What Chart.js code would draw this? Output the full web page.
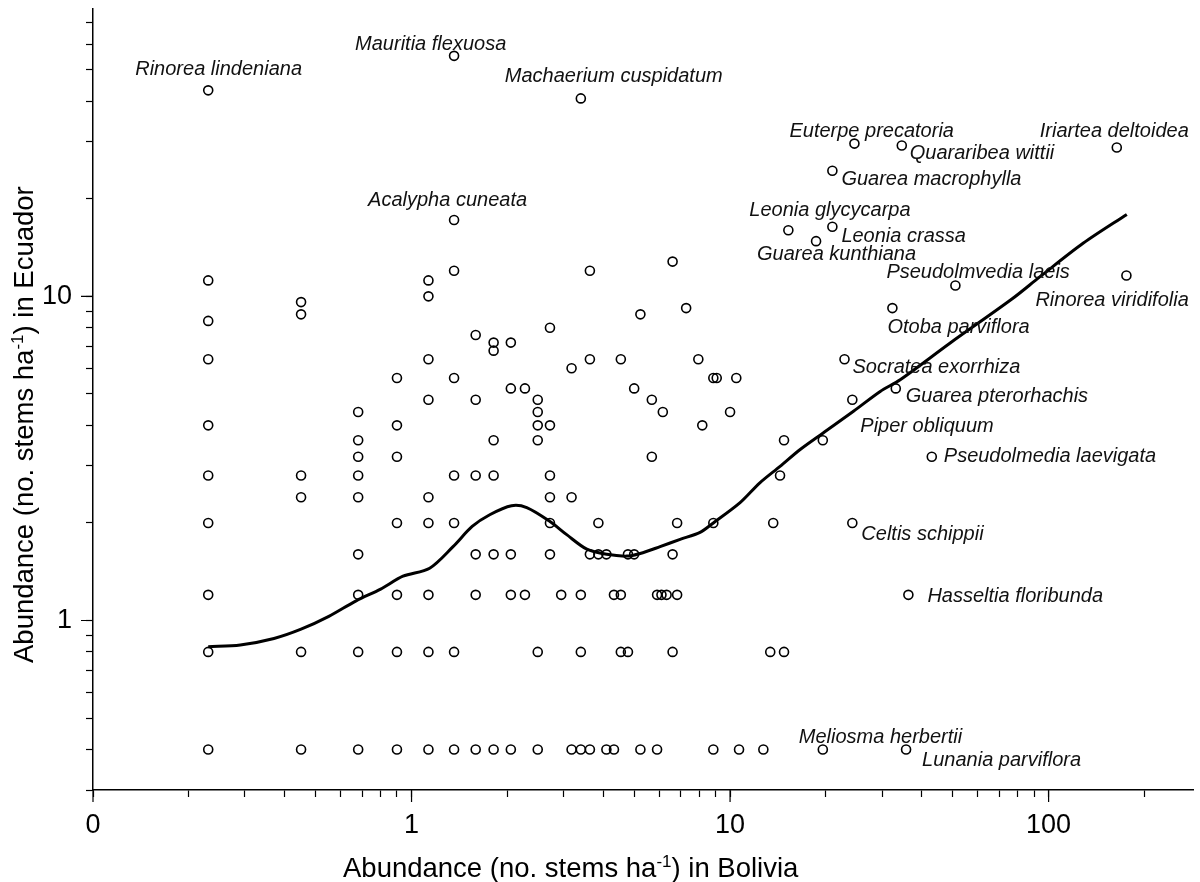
<!DOCTYPE html>
<html>
<head>
<meta charset="utf-8">
<script src="https://cdn.jsdelivr.net/npm/chart.js@4.4.1/dist/chart.umd.min.js"></script>
<style>
  html, body { margin: 0; padding: 0; background: #fff; }
  #wrap { width: 1200px; height: 882px; }
</style>
</head>
<body>
<div id="wrap"><canvas id="chart" width="1200" height="882"></canvas></div>
<script>
// Ecuador abundance (stems/ha), one entry per row of points
const ecuadorRows = [55.2, 43.2, 40.8, 29.6, 29.2, 28.8, 24.4, 17.2, 16.4, 16.0, 14.8, 12.8, 12.0, 11.6,
    11.2, 10.8, 10.0, 9.6, 9.2, 8.8, 8.4, 8.0, 7.6, 7.2, 6.8, 6.4, 6.0, 5.6, 5.2, 4.8, 4.4, 4.0, 3.6,
    3.2, 2.8, 2.4, 2.0, 1.6, 1.2, 0.8, 0.4];

// Bolivia abundance of the species sitting on each of those rows
const boliviaByRow = [
    [1.36],
    [0.23],
    [3.40],
    [24.57],
    [34.60],
    [163.7],
    [20.95],
    [1.36],
    [20.95],
    [15.24],
    [18.62],
    [6.60],
    [1.36, 3.63],
    [175.5],
    [0.23, 1.13],
    [50.98],
    [1.13],
    [0.45],
    [7.28, 32.33],
    [0.45, 5.23],
    [0.23],
    [2.72],
    [1.59],
    [1.81, 2.05],
    [1.81],
    [0.23, 1.13, 3.63, 4.54, 7.95, 22.87],
    [3.18],
    [0.90, 1.36, 8.86, 9.08, 10.46],
    [2.05, 2.27, 5.00, 33.13],
    [1.13, 1.59, 2.49, 5.68, 24.2],
    [0.68, 2.49, 6.15, 10.0],
    [0.23, 0.90, 2.49, 2.72, 8.18],
    [0.68, 1.81, 2.49, 14.77, 19.55],
    [0.68, 0.90, 5.68, 42.98],
    [0.23, 0.45, 0.68, 1.36, 1.59, 1.81, 2.72, 14.35],
    [0.45, 0.68, 1.13, 2.72, 3.18],
    [0.23, 0.90, 1.13, 1.36, 2.72, 3.86, 6.82, 8.86, 13.66, 24.2],
    [0.68, 1.59, 1.81, 2.05, 2.72, 3.63, 3.86, 4.09, 4.78, 5.00, 6.60],
    [0.23, 0.68, 0.90, 1.13, 1.59, 2.05, 2.27, 2.95, 3.40, 4.32, 4.54, 5.90, 6.09, 6.32, 6.82, 36.29],
    [0.23, 0.45, 0.68, 0.90, 1.13, 1.36, 2.49, 3.40, 4.54, 4.78, 6.60, 13.37, 14.77],
    [0.23, 0.45, 0.68, 0.90, 1.13, 1.36, 1.59, 1.81, 2.05, 2.49, 3.18, 3.40, 3.63, 4.09, 4.32, 5.23,
        5.90, 8.86, 10.67, 12.72, 19.55, 35.69]
];

// smoothed trend line
const curveX = [0.23, 0.29, 0.37, 0.45, 0.55, 0.67, 0.80, 0.94, 1.14, 1.35, 1.55, 1.76, 2.06, 2.30, 2.72,
    3.07, 3.55, 4.10, 4.74, 5.22, 6.03, 6.97, 8.05, 8.86, 10.75, 12.4, 14.35, 16.6, 19.6, 24.4, 29.6,
    34.2, 49.1, 76.7, 94.0, 128.6, 176];
const curveY = [0.83, 0.84, 0.88, 0.94, 1.03, 1.15, 1.25, 1.37, 1.45, 1.69, 1.95, 2.12, 2.26, 2.23, 2.02,
    1.84, 1.66, 1.60, 1.58, 1.61, 1.69, 1.78, 1.87, 2.00, 2.31, 2.66, 2.99, 3.37, 3.79, 4.42, 5.09,
    5.53, 7.18, 9.81, 11.5, 14.6, 17.9];

// named species
const labelNames = ['Rinorea lindeniana', 'Mauritia flexuosa', 'Machaerium cuspidatum', 'Acalypha cuneata',
    'Euterpe precatoria', 'Quararibea wittii', 'Iriartea deltoidea', 'Guarea macrophylla',
    'Leonia glycycarpa', 'Leonia crassa', 'Guarea kunthiana', 'Pseudolmvedia laeis', 'Rinorea viridifolia',
    'Otoba parviflora', 'Socratea exorrhiza', 'Guarea pterorhachis', 'Piper obliquum',
    'Pseudolmedia laevigata', 'Celtis schippii', 'Hasseltia floribunda', 'Meliosma herbertii',
    'Lunania parviflora'];
const labelX = [0.23, 1.36, 3.40, 1.36, 24.57, 34.60, 163.7, 20.95, 15.24, 20.95, 18.62, 50.98, 175.5,
    32.33, 22.87, 33.13, 24.2, 42.98, 24.2, 36.29, 19.55, 35.69];
const labelY = [43.2, 55.2, 40.8, 17.2, 29.6, 29.2, 28.8, 24.4, 16.0, 16.4, 14.8, 10.8, 11.6,
    9.2, 6.4, 5.2, 4.8, 3.2, 2.0, 1.2, 0.4, 0.4];

// axis ticks
const xMajorTicks = [0.1, 1, 10, 100];
const xMajorLabels = ['0', '1', '10', '100'];
const xMinorTicks = [0.2, 0.3, 0.4, 0.5, 0.6, 0.7, 0.8, 0.9, 2, 3, 4, 5, 6, 7, 8, 9,
    20, 30, 40, 50, 60, 70, 80, 90, 200];
const yMajorTicks = [1, 10];
const yMajorLabels = ['1', '10'];
const yMinorTicks = [0.3, 0.4, 0.5, 0.6, 0.7, 0.8, 0.9, 2, 3, 4, 5, 6, 7, 8, 9, 20, 30, 40, 50, 60, 70];

const xTitleParts = [['Abundance (no. stems ha', false], ['-1', true], [') in Bolivia', false]];
const yTitleParts = [['Abundance (no. stems ha', false], ['-1', true], [') in Ecuador', false]];

// text placement next to each named point (px from the point)
const labelOffsets = [[-73, -15], [-99, -6], [-76, -16], [-86, -14], [-65, -7], [8, 13], [-77, -10], [9, 14],
    [-39, -14], [9, 15], [-59, 19], [-69, -8], [-91, 31], [-5, 25], [8, 14], [10, 14], [8, 32], [12, 5],
    [9, 17], [19, 7], [-24, -7], [16, 16]];

const FONT = '"Liberation Sans", Arial, Helvetica, sans-serif';

const points = [];
ecuadorRows.forEach((y, i) => {
    boliviaByRow[i].forEach(x => points.push({ x: x, y: y }));
});
const curve = curveX.map((x, i) => ({ x: x, y: curveY[i] }));

function tickBuilder(majors, minors) {
    return scale => {
        scale.ticks = majors.concat(minors)
            .sort((a, b) => a - b)
            .map(v => ({ value: v, major: majors.includes(v) }));
    };
}

function tickLabel(majors, labels) {
    return value => {
        const i = majors.findIndex(m => Math.abs(m - value) < 1e-9);
        return i >= 0 ? labels[i] : '';
    };
}

function drawTitle(ctx, parts) {
    let x = 0;
    parts.forEach(([text, sup]) => {
        ctx.font = sup ? `17px ${FONT}` : `27.5px ${FONT}`;
        ctx.fillText(text, x, sup ? -10 : 0);
        x += ctx.measureText(text).width;
    });
}

const decorations = {
    id: 'decorations',
    afterDraw(chart) {
        const { ctx, chartArea } = chart;
        const xs = chart.scales.x;
        const ys = chart.scales.y;
        ctx.save();

        // longer ticks for the labelled decades
        ctx.strokeStyle = '#000';
        ctx.lineWidth = 1.2;
        ctx.beginPath();
        xMajorTicks.forEach(v => {
            const px = xs.getPixelForValue(v);
            ctx.moveTo(px, chartArea.bottom);
            ctx.lineTo(px, chartArea.bottom + 12);
        });
        yMajorTicks.forEach(v => {
            const py = ys.getPixelForValue(v);
            ctx.moveTo(chartArea.left, py);
            ctx.lineTo(chartArea.left - 12, py);
        });
        ctx.stroke();

        // species names
        ctx.fillStyle = '#111';
        ctx.font = `italic 20px ${FONT}`;
        ctx.textAlign = 'left';
        ctx.textBaseline = 'alphabetic';
        labelNames.forEach((name, i) => {
            const px = xs.getPixelForValue(labelX[i]);
            const py = ys.getPixelForValue(labelY[i]);
            ctx.fillText(name, px + labelOffsets[i][0], py + labelOffsets[i][1]);
        });

        // axis titles
        ctx.fillStyle = '#000';
        ctx.save();
        ctx.translate(343, 877);
        drawTitle(ctx, xTitleParts);
        ctx.restore();

        ctx.save();
        ctx.translate(33, 663);
        ctx.rotate(-Math.PI / 2);
        drawTitle(ctx, yTitleParts);
        ctx.restore();

        ctx.restore();
    }
};

new Chart(document.getElementById('chart'), {
    type: 'scatter',
    data: {
        datasets: [
            {
                data: curve,
                showLine: true,
                borderColor: '#000',
                borderWidth: 3,
                pointRadius: 0,
                tension: 0.3,
                fill: false
            },
            {
                data: points,
                pointRadius: 4.5,
                pointBorderWidth: 1.6,
                pointBorderColor: '#000',
                pointBackgroundColor: 'rgba(0,0,0,0)',
                showLine: false
            }
        ]
    },
    options: {
        responsive: false,
        animation: false,
        devicePixelRatio: 1,
        events: [],
        layout: { padding: { top: 9, right: 7, left: 0, bottom: 0 } },
        plugins: {
            legend: { display: false },
            title: { display: false },
            tooltip: { enabled: false }
        },
        scales: {
            x: {
                type: 'logarithmic',
                position: 'bottom',
                min: 0.1,
                max: 284,
                afterBuildTicks: tickBuilder(xMajorTicks, xMinorTicks),
                afterFit: scale => {
                    scale.height = 92;
                    scale.paddingLeft = 0;
                    scale.paddingRight = 0;
                },
                border: { display: true, color: '#000', width: 1.5 },
                grid: { drawOnChartArea: false, drawTicks: true, tickLength: 7, tickColor: '#000', tickWidth: 1.2 },
                ticks: {
                    autoSkip: false,
                    maxRotation: 0,
                    minRotation: 0,
                    padding: 12,
                    color: '#000',
                    font: { family: FONT, size: 27 },
                    callback: tickLabel(xMajorTicks, xMajorLabels)
                }
            },
            y: {
                type: 'logarithmic',
                position: 'left',
                min: 0.3,
                max: 77,
                afterBuildTicks: tickBuilder(yMajorTicks, yMinorTicks),
                afterFit: scale => {
                    scale.width = 93;
                    scale.paddingTop = 0;
                    scale.paddingBottom = 0;
                },
                border: { display: true, color: '#000', width: 1.5 },
                grid: { drawOnChartArea: false, drawTicks: true, tickLength: 7, tickColor: '#000', tickWidth: 1.2 },
                ticks: {
                    autoSkip: false,
                    padding: 14,
                    color: '#000',
                    font: { family: FONT, size: 27 },
                    callback: tickLabel(yMajorTicks, yMajorLabels)
                }
            }
        }
    },
    plugins: [decorations]
});
</script>
</body>
</html>
